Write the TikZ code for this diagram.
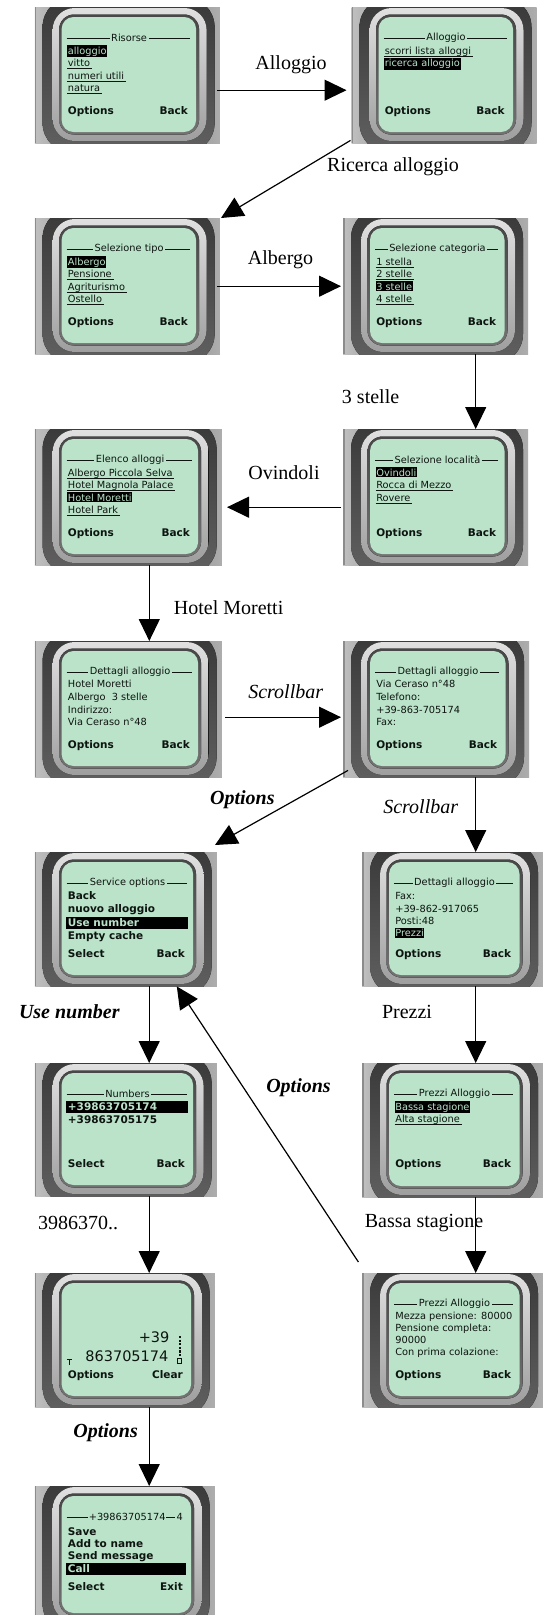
\documentclass[tikz,border=0pt]{standalone}
\usepackage{fontspec}
\setmainfont{Liberation Serif}
\newfontfamily\scrf{DejaVu Sans}
\usetikzlibrary{arrows.meta,calc}
\definecolor{scrgreen}{RGB}{186,227,201}
\definecolor{scrink}{RGB}{14,20,16}
\tikzset{
  lbl/.style={font=\fontsize{20}{24}\selectfont, inner sep=0pt},
  lblit/.style={font=\fontsize{20}{24}\selectfont\itshape, inner sep=0pt},
  lblbi/.style={font=\fontsize{20}{24}\selectfont\bfseries\itshape, inner sep=0pt},
  arr/.style={line width=1.2pt, -{Triangle[length=22pt,width=21pt]}},
  scrt/.style={font=\scrf\fontsize{9.8}{11}\selectfont, text=scrink, inner sep=0.6pt},
  scrb/.style={font=\scrf\bfseries\fontsize{10.5}{12}\selectfont, text=scrink, inner sep=0.6pt},
  dial/.style={font=\scrf\fontsize{14.5}{16}\selectfont, text=scrink, inner sep=0pt},
  phonebody/.style={left color=black!25, right color=black!32, middle color=black!55, draw=none, inner sep=0pt},
}
\newcommand\phone[6]{%
\begin{scope}[shift={(#2,#3)}]
\def\pn{#1}\def\pw{#4}\def\ph{#5}
\node[phonebody, minimum width=#4pt, minimum height=#5pt, anchor=north west] (#1) at (0,0) {};
\begin{scope}
\clip (0,0) rectangle (\pw,\ph);
\fill[black!45] (0,0) rectangle (1.5,\ph);
\fill[top color=black!78, bottom color=black!62, rounded corners=30pt] (8,-10) rectangle (\pw-5,\ph+10);
\fill[top color=black!12, bottom color=black!38, rounded corners=22pt] (18,1) rectangle (\pw-13,\ph-2);
\fill[top color=black!72, bottom color=black!55, rounded corners=15pt] (24.5,7.5) rectangle (\pw-20.5,\ph-8.5);
\fill[scrgreen, rounded corners=12pt] (27,10) rectangle (\pw-23.5,\ph-11);
\end{scope}
#6
\end{scope}}
\newcommand\ptitle[1]{%
  \draw[scrink,line width=0.7pt] (32,31)--(\pw-30,31);
  \node[scrt,fill=scrgreen,inner xsep=1.5pt] (\pn-t) at ({\pw/2+2},31) {#1};}
\newcommand\pul[3]{%
  \node[scrt,anchor=base west] (\pn-#2) at (32.5,#1) {#3};
  \draw[scrink,line width=0.7pt] ([yshift=-2pt]\pn-#2.base west)--([yshift=-2pt,xshift=1pt]\pn-#2.base east);}
\newcommand\psel[3]{%
  \node[scrt,anchor=base west,fill=black,text=scrgreen,inner xsep=0.6pt,inner ysep=1.3pt] (\pn-#2) at (32.5,#1) {#3};}
\newcommand\ptxt[3]{\node[scrt,anchor=base west] (\pn-#2) at (32.5,#1) {#3};}
\newcommand\pbold[3]{\node[scrb,anchor=base west] (\pn-#2) at (32.5,#1) {#3};}
\newcommand\pfull[3]{%
  \fill[black] (31,#1-9.5) rectangle (\pw-29,#1+2.5);
  \node[scrb,anchor=base west,text=scrgreen] (\pn-#2) at (32.5,#1) {#3};}
\newcommand\psoft[3]{%
  \node[scrb,anchor=base west] (\pn-l) at (32.5,#1) {#2};
  \node[scrb,anchor=base east] (\pn-r) at (\pw-31,#1) {#3};}
\begin{document}
\begin{tikzpicture}[x=1pt,y=-1pt]
\fill[white] (0,0) rectangle (543,1615);
\useasboundingbox (0,0) rectangle (543,1615);

\phone{p1}{34.6}{7}{185}{136}{%
 \ptitle{Risorse}
 \psel{47}{a}{alloggio}
 \pul{59.5}{b}{vitto}
 \pul{72}{c}{numeri utili}
 \pul{84.5}{d}{natura}
 \psoft{107}{Options}{Back}}

\phone{p2}{351.5}{7}{185}{136}{%
 \ptitle{Alloggio}
 \pul{47}{a}{scorri lista alloggi}
 \psel{59.5}{b}{ricerca alloggio}
 \psoft{107}{Options}{Back}}

\phone{p3}{34.6}{218}{185}{136}{%
 \ptitle{Selezione tipo}
 \psel{47}{a}{Albergo}
 \pul{59.5}{b}{Pensione}
 \pul{72}{c}{Agriturismo}
 \pul{84.5}{d}{Ostello}
 \psoft{107}{Options}{Back}}

\phone{p4}{343}{218}{185}{136}{%
 \ptitle{Selezione categoria}
 \pul{47}{a}{1 stella}
 \pul{59.5}{b}{2 stelle}
 \psel{72}{c}{3 stelle}
 \pul{84.5}{d}{4 stelle}
 \psoft{107}{Options}{Back}}

\phone{p5}{343}{429}{185}{136}{%
 \ptitle{Selezione località}
 \psel{47}{a}{Ovindoli}
 \pul{59.5}{b}{Rocca di Mezzo}
 \pul{72}{c}{Rovere}
 \psoft{107}{Options}{Back}}

\phone{p6}{34.6}{429}{187}{136}{%
 \ptitle{Elenco alloggi}
 \pul{47}{a}{Albergo Piccola Selva}
 \pul{59.5}{b}{Hotel Magnola Palace}
 \psel{72}{c}{Hotel Moretti}
 \pul{84.5}{d}{Hotel Park}
 \psoft{107}{Options}{Back}}

\phone{p7}{34.6}{641}{187}{136}{%
 \ptitle{Dettagli alloggio}
 \ptxt{46.5}{a}{Hotel Moretti}
 \ptxt{59.5}{b}{Albergo\ \ 3 stelle}
 \ptxt{72}{c}{Indirizzo:}
 \ptxt{84.5}{d}{Via Ceraso n°48}
 \psoft{107.5}{Options}{Back}}

\phone{p8}{343}{641}{186}{136}{%
 \ptitle{Dettagli alloggio}
 \ptxt{46.5}{a}{Via Ceraso n°48}
 \ptxt{59.5}{b}{Telefono:}
 \ptxt{72}{c}{+39-863-705174}
 \ptxt{84.5}{d}{Fax:}
 \psoft{107.5}{Options}{Back}}

\phone{p9}{34.6}{852}{182}{134}{%
 \ptitle{Service options}
 \pbold{47}{a}{Back}
 \pbold{60.5}{b}{nuovo alloggio}
 \pfull{74}{c}{Use number}
 \pbold{87.5}{d}{Empty cache}
 \psoft{105}{Select}{Back}}

\phone{p10}{362}{852}{181}{134}{%
 \ptitle{Dettagli alloggio}
 \ptxt{47}{a}{Fax:}
 \ptxt{60}{b}{+39-862-917065}
 \ptxt{72}{c}{Posti:48}
 \psel{84.5}{d}{Prezzi}
 \psoft{105}{Options}{Back}}

\phone{p11}{34.6}{1063}{182}{133}{%
 \ptitle{Numbers}
 \pfull{47.5}{a}{+39863705174}
 \pbold{60.5}{b}{+39863705175}
 \psoft{104}{Select}{Back}}

\phone{p12}{362}{1063}{181}{134}{%
 \ptitle{Prezzi Alloggio}
 \psel{47}{a}{Bassa stagione}
 \pul{59.5}{b}{Alta stagione}
 \psoft{104.5}{Options}{Back}}

\phone{p13}{34.6}{1273}{180}{134}{%
 \node[dial,anchor=base east] (p13-a) at (\pw-45,69) {+39};
 \node[dial,anchor=base east] (p13-b) at (\pw-46,88) {863705174};
 \draw[scrink,line width=0.8pt] (32.5,86)--(37.5,86) (35,86)--(35,92);
 \draw[scrink,line width=1.8pt,dash pattern=on 2.2pt off 1.4pt] (\pw-35,63)--(\pw-35,83);
 \draw[scrink,line width=0.6pt] (\pw-37,85) rectangle (\pw-33,90);
 \psoft{105.5}{Options}{Clear}}

\phone{p14}{362}{1273}{181}{134}{%
 \ptitle{Prezzi Alloggio}
 \ptxt{46.5}{a}{Mezza pensione: 80000}
 \ptxt{58.5}{b}{Pensione completa:}
 \ptxt{70}{c}{90000}
 \ptxt{82}{d}{Con prima colazione:}
 \psoft{105.5}{Options}{Back}}

\phone{p15}{34.6}{1486}{180}{138}{%
 \draw[scrink,line width=0.7pt] (32,31)--(53,31);
 \node[scrt,anchor=west,inner sep=0.5pt] (p15-t) at (53.5,31) {+39863705174};
 \draw[scrink,line width=0.7pt] (p15-t.east)--(\pw-40,31);
 \node[scrt,anchor=east,inner sep=0.5pt] (p15-n) at (\pw-31,31) {4};
 \pbold{49}{a}{Save}
 \pbold{61}{b}{Add to name}
 \pbold{73.5}{c}{Send message}
 \pfull{86}{d}{Call}
 \psoft{104}{Select}{Exit}}

% labels
\node[lbl] (l1) at (291,65) {Alloggio};
\node[lbl] (l2) at (393,167) {Ricerca alloggio};
\node[lbl] (l3) at (280.5,260) {Albergo};
\node[lbl] (l4) at (370.6,397) {3 stelle};
\node[lbl] (l5) at (284,473) {Ovindoli};
\node[lbl] (l6) at (228.6,608) {Hotel Moretti};
\node[lblit] (l7) at (285.7,692) {Scrollbar};
\node[lblbi] (l8) at (242.4,800) {Options};
\node[lblit] (l9) at (420.7,807) {Scrollbar};
\node[lblbi] (l10) at (69.3,1012) {Use number};
\node[lbl] (l11) at (407,1012) {Prezzi};
\node[lblbi] (l12) at (298.5,1088) {Options};
\node[lbl] (l13) at (78,1223) {3986370..};
\node[lbl] (l14) at (424,1223) {Bassa stagione};
\node[lblbi] (l15) at (105.6,1433) {Options};

% connectors
\draw[arr] ([xshift=-3pt,yshift=-15pt]p1.east) -- ([xshift=-5pt,yshift=-15pt]p2.west);
\draw[arr] ([xshift=-1pt,yshift=3pt]p2.south west) -- ([xshift=1pt]p3.north east);
\draw[arr] ([xshift=-3pt]p3.east) -- ([xshift=-2pt]p4.west);
\draw[arr] ([xshift=40pt]p4.south) -- ([xshift=40pt]p5.north);
\draw[arr] ([xshift=-2pt,yshift=-10pt]p5.west) -- ([xshift=5pt,yshift=-10pt]p6.east);
\draw[arr] ([xshift=21pt]p6.south) -- ([xshift=21pt]p7.north);
\draw[arr] ([xshift=3.4pt,yshift=-8pt]p7.east) -- ([xshift=-2pt,yshift=-8pt]p8.west);
\draw[arr] ([xshift=5pt,yshift=7pt]p8.south west) -- ([xshift=-2pt,yshift=7pt]p9.north east);
\draw[arr] ([xshift=39.5pt]p8.south) -- ([xshift=23pt]p10.north);
\draw[arr] ([xshift=23.4pt]p9.south) -- ([xshift=23.4pt]p11.north);
\draw[arr] ([xshift=23pt]p10.south) -- ([xshift=23pt]p12.north);
\draw[arr] ([xshift=-3.6pt,yshift=11pt]p14.north west) -- ([xshift=51pt]p9.south);
\draw[arr] ([xshift=23.4pt]p11.south) -- ([xshift=24.4pt]p13.north);
\draw[arr] ([xshift=23pt]p12.south) -- ([xshift=23pt]p14.north);
\draw[arr] ([xshift=24.4pt]p13.south) -- ([xshift=24.4pt]p15.north);
\end{tikzpicture}
\end{document}
